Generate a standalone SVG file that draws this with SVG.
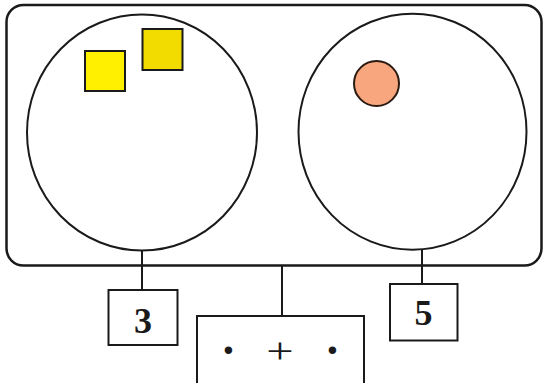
<svg xmlns="http://www.w3.org/2000/svg" width="546" height="383" viewBox="0 0 546 383">
<style>
.ln{fill:none;stroke:#1a1a1a;stroke-width:2}
.box{fill:#fff;stroke:#1a1a1a;stroke-width:2}
.num{font-family:"Liberation Serif",serif;font-weight:bold;font-size:36px;fill:#1a1a1a;text-anchor:middle}
.dot{font-family:"Liberation Serif",serif;font-weight:bold;font-size:46px;fill:#1a1a1a;text-anchor:middle}
.sym{font-family:"Liberation Serif",serif;font-size:36px;fill:#1a1a1a;text-anchor:middle}
</style>
<rect width="546" height="383" fill="#fff"/>
<g id="plate">
<rect x="6.5" y="5" width="535" height="260.5" rx="17" ry="17" fill="#fff" stroke="#1a1a1a" stroke-width="2.5"/>
</g>
<g id="connectors" class="ln">
<line x1="142" y1="250.5" x2="142" y2="290"/>
<line x1="422" y1="250" x2="422" y2="284"/>
<line x1="282" y1="265.5" x2="282" y2="316"/>
</g>
<g id="left-burner">
<ellipse cx="142" cy="132.5" rx="115" ry="118" class="ln"/>
<rect x="85" y="51" width="40" height="40" fill="#FFF000" stroke="#1a1a1a" stroke-width="2"/>
<rect x="142.5" y="29" width="40" height="41" fill="#F2DC00" stroke="#1a1a1a" stroke-width="2"/>
</g>
<g id="right-burner">
<ellipse cx="412.5" cy="131.7" rx="114" ry="118" class="ln"/>
<circle cx="376.5" cy="83.5" r="22.5" fill="#F8A67E" stroke="#2a1a12" stroke-width="2"/>
</g>
<g id="knob-3">
<rect x="108.5" y="290" width="69" height="55" class="box"/>
<text x="143" y="333" class="num">3</text>
</g>
<g id="knob-5">
<rect x="390" y="284" width="67.5" height="56.5" class="box"/>
<text x="423.5" y="324.5" class="num">5</text>
</g>
<g id="switch">
<rect x="197" y="316" width="167" height="70" class="box"/>
<text x="228.5" y="366" class="dot">·</text>
<text x="332.5" y="366" class="dot">·</text>
<text transform="translate(280,363) scale(1.35,1)" class="sym">+</text>
</g>
</svg>
